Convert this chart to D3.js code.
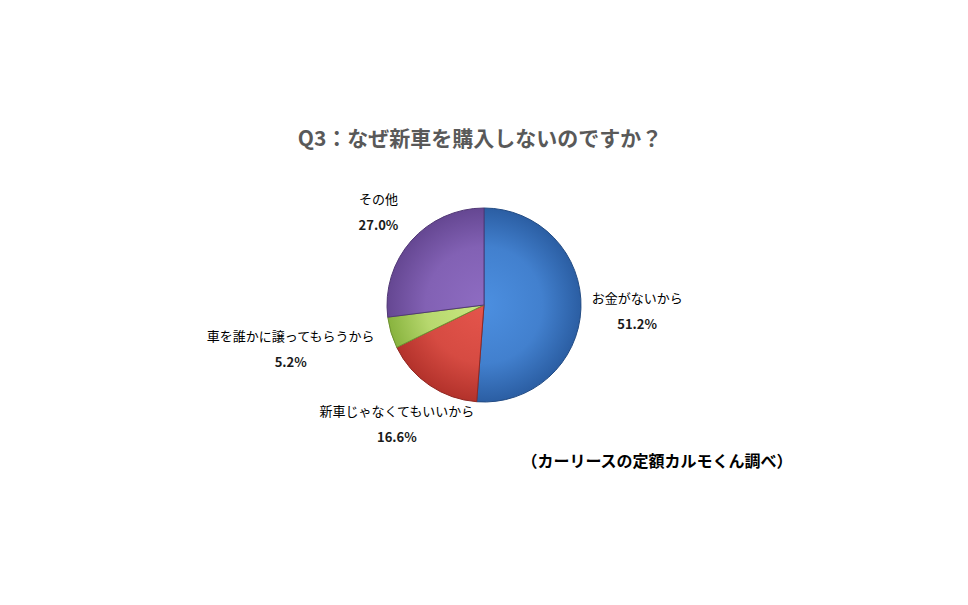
<!DOCTYPE html>
<html>
<head>
<meta charset="utf-8">
<script src="https://cdn.jsdelivr.net/npm/d3@7"></script>
<style>
  body { margin: 0; background: #fff; }
  text { font-family: "Noto Sans CJK JP", "Noto Sans", sans-serif; }
</style>
</head>
<body>
<div id="chart"></div>
<script>
var categories = ["お金がないから", "新車じゃなくてもいいから", "車を誰かに譲ってもらうから", "その他"];
var values = [51.2, 16.6, 5.2, 27.0];
var lightColors = ["#4c8fe0", "#e5554c", "#cbe882", "#8e6cc2"];
var darkColors = ["#2b5ea3", "#b3322b", "#88b33e", "#654792"];

// label layout: radius factor from the centre and small nudge
var labelLayout = [
  { r: 1.58, dx: 0, dy: 0 },
  { r: 1.58, dx: -1, dy: -8 },
  { r: 1.95, dx: -12, dy: -10 },
  { r: 1.45, dx: 0, dy: 0 }
];

var width = 968, height = 605;
var cx = 484, cy = 305, radius = 97;

var svg = d3.select("#chart").append("svg")
    .attr("width", width)
    .attr("height", height);

var defs = svg.append("defs");
categories.forEach(function(c, i) {
  var g = defs.append("radialGradient")
      .attr("id", "grad" + i)
      .attr("gradientUnits", "userSpaceOnUse")
      .attr("cx", 0).attr("cy", 0)
      .attr("r", radius);
  g.append("stop").attr("offset", "0%").attr("stop-color", lightColors[i]);
  g.append("stop").attr("offset", "60%").attr("stop-color", d3.interpolateRgb(lightColors[i], darkColors[i])(0.3));
  g.append("stop").attr("offset", "100%").attr("stop-color", darkColors[i]);
});

svg.append("text")
    .attr("x", 480)
    .attr("y", 146)
    .attr("text-anchor", "middle")
    .style("font-size", "21px")
    .style("font-weight", "bold")
    .style("fill", "#595959")
    .text("Q3：なぜ新車を購入しないのですか？");

var pie = d3.pie().sort(null).value(function(d) { return d; });
var arcs = pie(values);
var arc = d3.arc().innerRadius(0).outerRadius(radius);

var g = svg.append("g").attr("transform", "translate(" + cx + "," + cy + ")");

g.selectAll("path.slice")
  .data(arcs)
  .enter()
  .append("path")
  .attr("class", "slice")
  .attr("d", arc)
  .style("fill", function(d, i) { return "url(#grad" + i + ")"; })
  .style("stroke", function(d, i) { return d3.color(darkColors[i]).darker(0.6); })
  .style("stroke-width", 1);

var labels = g.selectAll("g.label")
  .data(arcs)
  .enter()
  .append("g")
  .attr("class", "label")
  .attr("transform", function(d, i) {
    var L = labelLayout[i];
    var a = (d.startAngle + d.endAngle) / 2;
    var x = Math.sin(a) * radius * L.r + L.dx;
    var y = -Math.cos(a) * radius * L.r + L.dy;
    return "translate(" + x + "," + y + ")";
  });

labels.append("text")
  .attr("text-anchor", "middle")
  .attr("y", -8)
  .style("font-size", "13px")
  .style("fill", "#000")
  .text(function(d, i) { return categories[i]; });

labels.append("text")
  .attr("text-anchor", "middle")
  .attr("y", 18)
  .style("font-size", "13px")
  .style("font-weight", "bold")
  .style("fill", "#1a1a1a")
  .text(function(d) { return d3.format(".1f")(d.data) + "%"; });

svg.append("text")
    .attr("x", 657)
    .attr("y", 467)
    .attr("text-anchor", "middle")
    .style("font-size", "16px")
    .style("font-weight", "bold")
    .style("fill", "#000")
    .text("（カーリースの定額カルモくん調べ）");
</script>
</body>
</html>
